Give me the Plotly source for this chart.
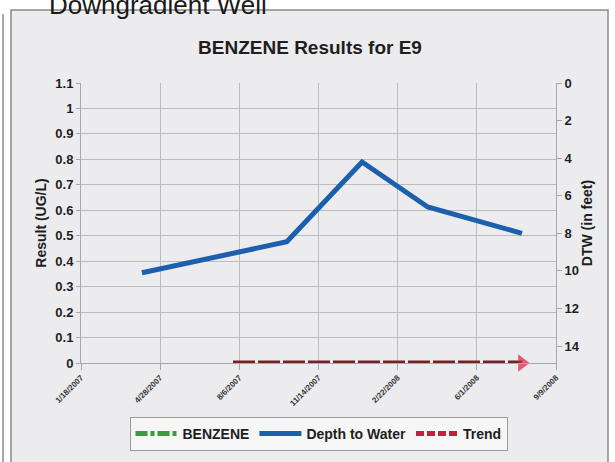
import plotly.graph_objects as go

# ---- data ----
tick_dates = ["2007-01-18", "2007-04-28", "2007-08-06", "2007-11-14",
              "2008-02-22", "2008-06-01", "2008-09-09"]
tick_labels = ["1/18/2007", "4/28/2007", "8/6/2007", "11/14/2007",
               "2/22/2008", "6/1/2008", "9/9/2008"]

benzene_dates = []
benzene_values = []

dtw_dates = ["2007-04-05", "2007-10-05", "2008-01-08", "2008-03-31", "2008-07-28"]
dtw_values = [10.1, 8.45, 4.2, 6.6, 8.0]

trend_dates = ["2007-07-29", "2008-07-28"]
trend_values = [0, 0]

y_ticks = [0, 0.1, 0.2, 0.3, 0.4, 0.5, 0.6, 0.7, 0.8, 0.9, 1.0, 1.1]
y_tick_labels = ["0", "0.1", "0.2", "0.3", "0.4", "0.5", "0.6", "0.7", "0.8", "0.9", "1", "1.1"]
dtw_ticks = [0, 2, 4, 6, 8, 10, 12, 14]

FONT = "Liberation Sans, Arial, sans-serif"
TXT = "#1e1e1e"

fig = go.Figure()

fig.add_trace(go.Scatter(
    x=benzene_dates if benzene_dates else [None], y=benzene_values if benzene_values else [None],
    name="BENZENE", mode="lines",
    line=dict(color="#3d9a3a", width=5, dash="12px,3px,4px,3px"), yaxis="y"))

fig.add_trace(go.Scatter(
    x=dtw_dates, y=dtw_values, name="Depth to Water", mode="lines",
    line=dict(color="#1c5fad", width=5), yaxis="y2"))

# trend line drawn in plot (dark red) + arrow head
fig.add_trace(go.Scatter(
    x=trend_dates, y=trend_values, mode="lines+markers", showlegend=False,
    line=dict(color="#7a1f24", width=5, dash="22px,3px"),
    marker=dict(symbol="triangle-right", size=[0, 15], color="#d4203a", line=dict(width=0)),
    cliponaxis=False, yaxis="y"))

# legend entry for trend
fig.add_trace(go.Scatter(
    x=[None], y=[None], name="Trend", mode="lines",
    line=dict(color="#c4203c", width=5, dash="8px,3px"), yaxis="y"))

# background gradient bands in plot area
shapes = []
n = 28
top = (238, 238, 241)
bot = (251, 251, 214)
for i in range(n):
    t = (i + 0.5) / n
    w = t ** 1.6
    c = tuple(int(round(top[k] + (bot[k] - top[k]) * w)) for k in range(3))
    shapes.append(dict(type="rect", xref="x domain", yref="y domain",
                       x0=0, x1=1, y0=1 - (i + 1) / n, y1=1 - i / n,
                       fillcolor="rgb(%d,%d,%d)" % c, line=dict(width=0), layer="below"))

# outer container frame
shapes.append(dict(type="rect", xref="paper", yref="paper",
                   x0=(11 - 81) / 475, x1=(608 - 81) / 475,
                   y0=(363 - 470) / 280, y1=(363 - 10) / 280,
                   fillcolor="#ececee", line=dict(color="#8a8a8a", width=1.5), layer="below"))
shapes.append(dict(type="line", xref="paper", yref="paper",
                   x0=(3 - 81) / 475, x1=(3 - 81) / 475,
                   y0=(363 - 470) / 280, y1=(363 - 14) / 280,
                   line=dict(color="#8a8a8a", width=1.5), layer="below"))

fig.update_layout(
    width=615, height=462,
    margin=dict(l=81, r=59, t=83, b=99, autoexpand=False),
    paper_bgcolor="white",
    plot_bgcolor="rgba(0,0,0,0)",
    font=dict(family=FONT, color=TXT),
    title=dict(text="<b>BENZENE Results for E9</b>", x=310 / 615, xanchor="center",
               y=1 - 47 / 462, yanchor="middle", font=dict(size=19, color=TXT),
               automargin=False),
    shapes=shapes,
    showlegend=True,
    legend=dict(orientation="h", x=0.5, xanchor="center", y=(363 - 417) / 280, yanchor="top",
                bgcolor="#f6f6f6", bordercolor="#9a9a9a", borderwidth=1,
                font=dict(size=14, family=FONT, color=TXT, weight="bold"),
                itemwidth=42, tracegroupgap=0),
    xaxis=dict(type="date", range=[tick_dates[0], tick_dates[-1]], automargin=False,
               tickvals=tick_dates, ticktext=tick_labels, tickangle=-45,
               tickfont=dict(size=8, color="#333", weight="bold"),
               showgrid=True, gridcolor="#bcbcbc", gridwidth=1,
               ticks="outside", ticklen=6, tickcolor="#a8a8a8",
               showline=True, linecolor="#a8a8a8", zeroline=False),
    yaxis=dict(range=[0, 1.1], tickvals=y_ticks, ticktext=y_tick_labels, automargin=False,
               tickfont=dict(size=13, weight="bold"),
               title=dict(text="Result (UG/L)", font=dict(size=14, weight="bold"), standoff=5),
               showgrid=True, gridcolor="#bcbcbc", gridwidth=1,
               ticks="outside", ticklen=4, tickcolor="#a8a8a8",
               showline=True, linecolor="#a8a8a8", zeroline=False),
    yaxis2=dict(overlaying="y", side="right", range=[14.9, 0], automargin=False,
                tickvals=dtw_ticks,
                tickfont=dict(size=13, weight="bold"),
                title=dict(text="DTW (in feet)", font=dict(size=14, weight="bold"), standoff=2),
                showgrid=False, ticks="outside", ticklen=5, tickcolor="#a8a8a8",
                showline=True, linecolor="#a8a8a8", zeroline=False),
    annotations=[dict(text="Downgradient Well", xref="paper", yref="paper",
                      x=(158 - 81) / 475, xanchor="center",
                      y=(363 - 5) / 280, yanchor="middle", showarrow=False,
                      font=dict(size=26, color="#1a1a1a", family=FONT))],
)

fig.write_html("out.html", config={"displayModeBar": False},
               post_script="document.body.style.margin='0';document.body.style.overflow='hidden';")
